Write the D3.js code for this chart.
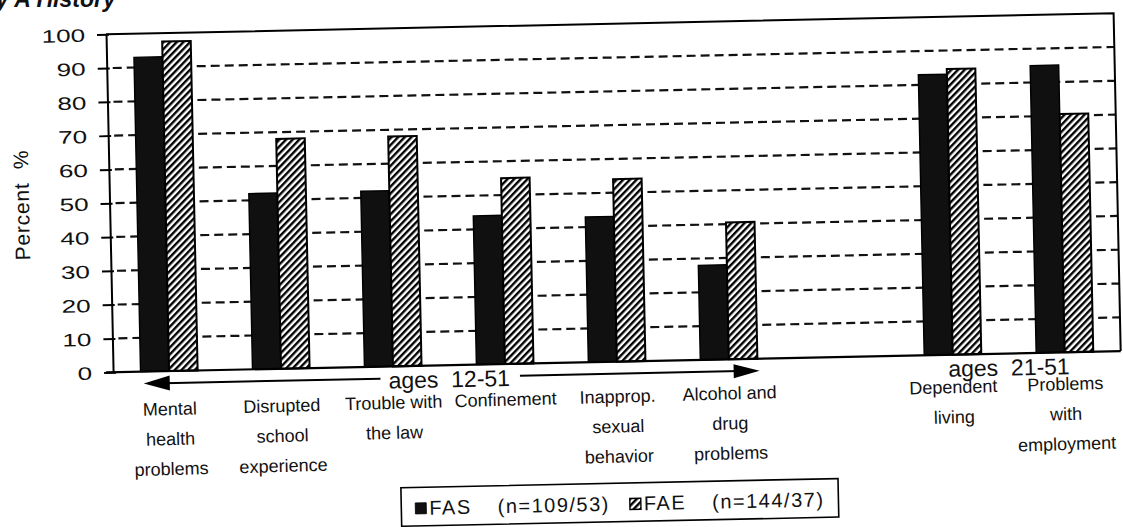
<!DOCTYPE html>
<html>
<head>
<meta charset="utf-8">
<script src="https://cdn.jsdelivr.net/npm/d3@7"></script>
<style>
  body { margin: 0; background: #fff; }
  svg { display: block; }
  text { font-family: "Liberation Sans", Arial, sans-serif; fill: #111; }
</style>
</head>
<body>
<svg id="chart" width="1123" height="527"></svg>
<script>
// categories, in reading order (a blank slot sits between groups 6 and 7)
const categories = [
  "Mental health problems",
  "Disrupted school experience",
  "Trouble with the law",
  "Confinement",
  "Inapprop. sexual behavior",
  "Alcohol and drug problems",
  "Dependent living",
  "Problems with employment"
];
const categoryLines = [
  ["Mental", "health", "problems"],
  ["Disrupted", "school", "experience"],
  ["Trouble with", "the law"],
  ["Confinement"],
  ["Inapprop.", "sexual", "behavior"],
  ["Alcohol and", "drug", "problems"],
  ["Dependent", "living"],
  ["Problems", "with", "employment"]
];
const fasValues = [93, 52, 52, 44, 43, 28, 83, 85];
const faeValues = [97.5, 68, 68, 55, 54, 40.5, 84.5, 70.5];
const seriesNames = ["FAS", "FAE"];
const seriesLegend = ["(n=109/53)", "(n=144/37)"];
const yTicks = [0, 10, 20, 30, 40, 50, 60, 70, 80, 90, 100];
const ageGroups = [
  { label: "ages  12-51", first: 0, last: 5, arrow: true },
  { label: "ages  21-51", first: 6, last: 7, arrow: false }
];

const svg = d3.select("#chart");
const tilt = -1.2; // the scan is slightly rotated

const plotLeft = 109.6, plotRight = 1117.4;
const slots = [...categories.slice(0, 6), "__gap", ...categories.slice(6)];

const x = d3.scaleBand().domain(slots).range([plotLeft, plotRight]).padding(0);
const pairWidth = x.bandwidth() * 0.51;
const pairOffset = (x.bandwidth() - pairWidth) / 2;
const xs = d3.scaleBand().domain(seriesNames).range([0, pairWidth]).padding(0);
const y = d3.scaleLinear().domain([0, 100]).range([362, 24]);

// title fragment cut off at the top of the scan
svg.append("text")
  .attr("x", -4).attr("y", 7)
  .attr("font-size", 23).attr("font-weight", "bold").attr("font-style", "italic")
  .style("white-space", "pre")
  .text("y A History");

const defs = svg.append("defs");
const hatch = defs.append("pattern")
  .attr("id", "hatch")
  .attr("patternUnits", "userSpaceOnUse")
  .attr("width", 4.8).attr("height", 4.8)
  .attr("patternTransform", "rotate(45)");
hatch.append("rect").attr("width", 4.8).attr("height", 4.8).attr("fill", "#fff");
hatch.append("rect").attr("width", 2.4).attr("height", 4.8).attr("fill", "#000");

const fills = { FAS: "#101010", FAE: "url(#hatch)" };

const root = svg.append("g").attr("transform", `rotate(${tilt} 600 200)`);

// dashed gridlines
root.append("g")
  .selectAll("line")
  .data(yTicks.filter((d) => d > 0 && d < 100))
  .enter()
  .append("line")
  .attr("x1", plotLeft + 6)
  .attr("x2", plotRight)
  .attr("y1", (d) => y(d))
  .attr("y2", (d) => y(d))
  .attr("stroke", "#111")
  .attr("stroke-width", 2.2)
  .attr("stroke-dasharray", "9,5");

// bars
const rows = categories.map((c, i) => ({ cat: c, FAS: fasValues[i], FAE: faeValues[i] }));

const groups = root.append("g")
  .selectAll("g")
  .data(rows)
  .enter()
  .append("g")
  .attr("transform", (d) => `translate(${x(d.cat) + pairOffset},0)`);

groups.selectAll("rect")
  .data((d) => seriesNames.map((s) => ({ key: s, value: d[s] })))
  .enter()
  .append("rect")
  .attr("x", (d) => xs(d.key))
  .attr("width", xs.bandwidth())
  .attr("y", (d) => y(d.value))
  .attr("height", (d) => y(0) - y(d.value))
  .attr("fill", (d) => fills[d.key])
  .attr("stroke", "#000")
  .attr("stroke-width", (d) => (d.key === "FAE" ? 2 : 1.4));

// y axis
const yAxis = root.append("g")
  .attr("transform", `translate(${plotLeft},0)`)
  .call(d3.axisLeft(y).tickValues(yTicks).tickSizeInner(9).tickSizeOuter(0));

yAxis.select(".domain").attr("stroke", "#000").attr("stroke-width", 2);
yAxis.selectAll(".tick line").attr("x1", 3).attr("stroke", "#000").attr("stroke-width", 2);
yAxis.selectAll(".tick text")
  .attr("x", 0)
  .attr("dy", null)
  .attr("y", 6.5)
  .attr("transform", "translate(-21,0) scale(1.45,1)")
  .attr("text-anchor", "end")
  .attr("font-family", "Liberation Sans, Arial, sans-serif")
  .attr("font-size", 18)
  .attr("fill", "#111");

// frame: top, right, baseline
root.append("path")
  .attr("d", `M${plotLeft},${y(100)}H${plotRight}V${y(0)}`)
  .attr("fill", "none")
  .attr("stroke", "#000")
  .attr("stroke-width", 2);

root.append("line")
  .attr("x1", plotLeft - 7).attr("x2", plotRight)
  .attr("y1", y(0)).attr("y2", y(0))
  .attr("stroke", "#000")
  .attr("stroke-width", 2.2);

// y title
root.append("text")
  .attr("transform", `translate(22,${(y(0) + y(100)) / 2}) rotate(-90)`)
  .attr("text-anchor", "middle")
  .attr("dy", 7)
  .attr("font-size", 21)
  .attr("letter-spacing", 0.8)
  .style("white-space", "pre")
  .text("Percent  %");

// category labels
const labelBase = 403;
const labelLayer = root.append("g").attr("transform", "rotate(-0.4 600 400)");
labelLayer.selectAll("text")
  .data(categories)
  .enter()
  .append("text")
  .attr("text-anchor", "middle")
  .attr("font-size", 18)
  .each(function (c, i) {
    const cx = x(c) + x.bandwidth() / 2;
    d3.select(this)
      .selectAll("tspan")
      .data(categoryLines[i])
      .enter()
      .append("tspan")
      .attr("x", cx)
      .attr("y", (d, j) => labelBase + j * 30)
      .text((d) => d);
  });

// age ranges with arrow
const arrowY = 374;
ageGroups.forEach((g) => {
  const x0 = x(categories[g.first]) + pairOffset;
  const x1 = x(categories[g.last]) + pairOffset + pairWidth;
  const mid = (x0 + x1) / 2;
  const t = root.append("text")
    .attr("x", mid)
    .attr("y", 384)
    .attr("text-anchor", "middle")
    .attr("font-size", 23)
    .style("white-space", "pre")
    .text(g.label);
  if (!g.arrow) return;
  const w = t.node().getComputedTextLength();
  const tipL = x0 + 3, tipR = x1 + 2;
  root.append("line")
    .attr("x1", tipL + 20).attr("x2", mid - w / 2 - 8)
    .attr("y1", arrowY).attr("y2", arrowY)
    .attr("stroke", "#000").attr("stroke-width", 2);
  root.append("line")
    .attr("x1", mid + w / 2 + 10).attr("x2", tipR - 20)
    .attr("y1", arrowY).attr("y2", arrowY)
    .attr("stroke", "#000").attr("stroke-width", 2);
  root.append("path")
    .attr("d", `M${tipL},${arrowY}L${tipL + 26},${arrowY - 7.5}L${tipL + 26},${arrowY + 7.5}Z`)
    .attr("fill", "#000");
  root.append("path")
    .attr("d", `M${tipR},${arrowY}L${tipR - 26},${arrowY - 7}L${tipR - 26},${arrowY + 7}Z`)
    .attr("fill", "#000");
});

// legend
const legend = root.append("g");
const legendBox = legend.append("rect")
  .attr("fill", "#fff")
  .attr("stroke", "#000")
  .attr("stroke-width", 1.6);
const legendBaseline = 511;
let cursor = 0;
const parts = [];
seriesNames.forEach((s, i) => {
  if (i > 0) cursor += 20;
  parts.push(legend.append("rect")
    .attr("x", cursor).attr("y", legendBaseline - 12)
    .attr("width", 11).attr("height", 11)
    .attr("fill", fills[s])
    .attr("stroke", "#000").attr("stroke-width", s === "FAE" ? 1.4 : 0.8));
  cursor += 14;
  const name = legend.append("text")
    .attr("x", cursor).attr("y", legendBaseline)
    .attr("font-size", 20).attr("letter-spacing", 1.5)
    .text(s);
  cursor += name.node().getComputedTextLength() + 26;
  const n = legend.append("text")
    .attr("x", cursor).attr("y", legendBaseline)
    .attr("font-size", 20).attr("letter-spacing", 1.5)
    .text(seriesLegend[i]);
  cursor += n.node().getComputedTextLength();
});
const pad = 14;
const legendCenter = (plotLeft + plotRight) / 2;
legend.attr("transform", `translate(${legendCenter - cursor / 2},0)`);
legendBox
  .attr("x", -pad).attr("y", 483.5)
  .attr("width", cursor + pad * 2).attr("height", 38.5);
</script>
</body>
</html>
